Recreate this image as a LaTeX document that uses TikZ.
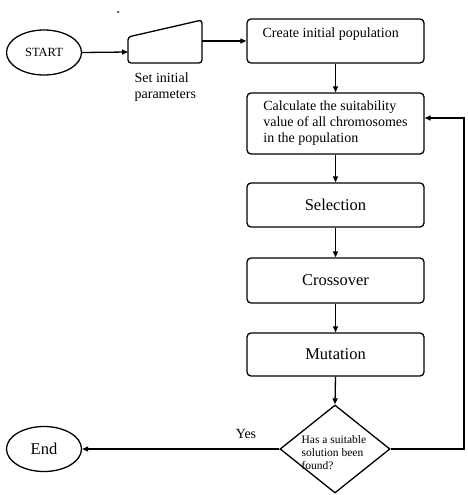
\documentclass[tikz,border=0pt]{standalone}
\usepackage{fontspec}
\setmainfont{Liberation Serif}
\usetikzlibrary{arrows.meta,shapes.geometric}
\begin{document}
\begin{tikzpicture}[x=1pt,y=-1pt,
  line width=1.3pt,
  arr/.style={-{Triangle[length=6pt,width=5pt]}},
  box/.style={draw,rounded corners=4pt,minimum width=177pt,inner sep=0pt},
  oval/.style={draw,ellipse,minimum width=75pt,minimum height=45pt,inner sep=0pt},
  big/.style={font=\fontsize{16.5}{18}\selectfont},
  mid/.style={font=\fontsize{14}{16}\selectfont},
]
\useasboundingbox (0,0) rectangle (467,495);
% stray dot
\fill (118,12) circle (1pt);
% start
\node[oval,font=\fontsize{12.5}{14}\selectfont] (start) at (44,52.5) {START};
% trapezoid (manual input)
\coordinate (t1) at (128,37);
\coordinate (t2) at (202,20);
\coordinate (t3) at (202,63);
\coordinate (t4) at (128,63);
\draw[rounded corners=3pt] (t1) -- (t2) -- (t3) -- (t4) -- cycle;
\coordinate (tin) at (128,52);
\coordinate (tout) at (202,41);
\node[mid,anchor=north west,align=left,inner sep=0pt] (setlbl) at (134,72) {Set initial\\parameters};
% boxes
\node[box,minimum height=44pt] (create) at (335.5,41) {};
\node[mid,anchor=west,inner sep=0pt] (createtxt) at (262,34) {Create initial population};
\node[box,minimum height=61pt,align=left,mid] (calc) at (335.5,123.5)
  {Calculate the suitability\\value of all chromosomes\\in the population};
\node[box,minimum height=44pt,big] (sel) at (335.5,205) {Selection};
\node[box,minimum height=45pt,big] (cross) at (335.5,280.5) {Crossover};
\node[box,minimum height=43pt,big] (mut) at (335.5,354.5) {Mutation};
% diamond
\node[draw,diamond,minimum width=110pt,minimum height=88pt,inner sep=0pt] (dec) at (335,449) {};
\node[anchor=west,align=left,inner sep=0pt,font=\fontsize{11.5}{13}\selectfont] (dectxt) at (301,453)
  {Has a suitable\\solution been\\found?};
% end
\node[oval,big] (endn) at (44,449) {End};
\node[mid] (yes) at (246,434) {Yes};
% connectors
\draw[arr] (start.east) -- (tin);
\draw[arr] (tout) -- (create.west);
\draw[arr] (create.south) -- (calc.north);
\draw[arr] (calc.south) -- (sel.north);
\draw[arr] (sel.south) -- (cross.north);
\draw[arr] (cross.south) -- (mut.north);
\draw[arr] (mut.south) -- (dec.north);
\draw[arr] (dec.west) -- (endn.east);
\coordinate (fb) at (464,118);
\draw[arr] (dec.east) -- (dec.east -| fb) -- (fb) -- (calc.east |- fb);
\end{tikzpicture}
\end{document}
